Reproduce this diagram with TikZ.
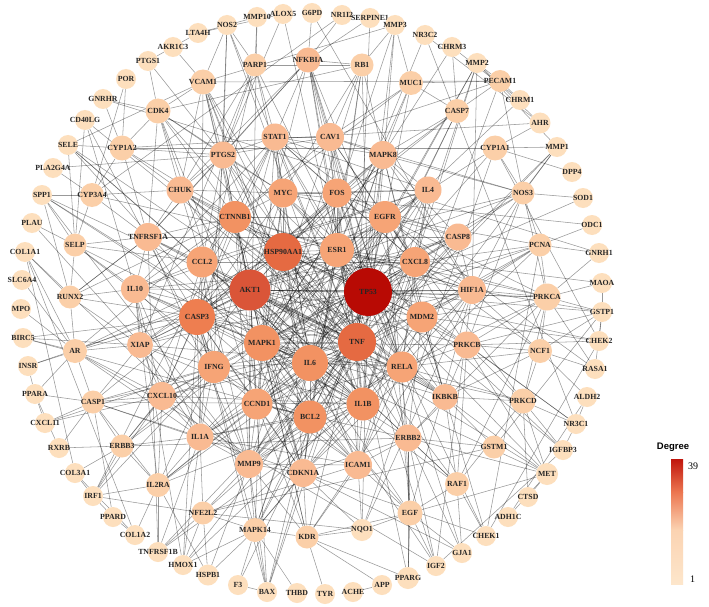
\documentclass[tikz,border=0pt]{standalone}
\usepackage{fontspec}
\setmainfont{Liberation Serif}
\newfontfamily\legfont{Liberation Sans}
\pgfdeclarelayer{bgwhite}
\pgfdeclarelayer{edges}
\pgfsetlayers{bgwhite,edges,main}
\definecolor{c1}{HTML}{FDDFBD}
\definecolor{c2}{HTML}{FBCFA8}
\definecolor{c3}{HTML}{F9BA92}
\definecolor{c4}{HTML}{F6A476}
\definecolor{c5}{HTML}{F29262}
\definecolor{c6}{HTML}{EE7E50}
\definecolor{c7}{HTML}{E56A42}
\definecolor{c8}{HTML}{DA5538}
\definecolor{c9}{HTML}{B80A04}
\definecolor{barA}{HTML}{C0150C}
\definecolor{barB}{HTML}{EC7650}
\definecolor{barC}{HTML}{FBD3B2}
\definecolor{barD}{HTML}{FDE6CB}
\begin{document}
\begin{tikzpicture}[x=1pt,y=-1pt,
  lab/.style={font=\fontsize{7.8}{8.5}\selectfont\bfseries, text=black!85, inner sep=0pt},
  ed/.style={draw=black, opacity=0.4, line width=0.55pt},
  gnode/.style={circle, inner sep=0pt, draw=none}]
\useasboundingbox (0,0) rectangle (709,607);
\begin{pgfonlayer}{bgwhite}
\fill[white] (0,0) rectangle (709,607);
\end{pgfonlayer}
% ---------- nodes: name/x/y/diameter/colour ----------
\foreach \n/\x/\y/\d/\c in {
 MMP10/257/17/20/c1, ALOX5/283/14/20/c1, G6PD/312/13/20/c1, NR1I2/342/15/20/c1,
 SERPINE1/370/18/20/c1, MMP3/395/25/20/c1, NR3C2/425/35/20/c1, CHRM3/452/47/20/c1,
 MMP2/477/63/20/c1, PECAM1/500/81/22/c2, CHRM1/520/100/20/c1, AHR/540/123/21/c1,
 MMP1/557/147/20/c1, DPP4/572/172/20/c1, SOD1/583/198/20/c1, ODC1/592/225/20/c1,
 GNRH1/599/253/20/c1, MAOA/602/283/20/c1, GSTP1/602/312/20/c1, CHEK2/599/341/20/c1,
 RASA1/595/369/20/c1, ALDH2/587/397/20/c1, NR3C1/576/424/20/c1, IGFBP3/563/450/20/c1,
 MET/547/474/22/c1, CTSD/528/497/20/c1, ADH1C/508/517/20/c1, CHEK1/486/536/20/c1,
 GJA1/462/553/20/c1, IGF2/436/566/20/c1, PPARG/408/578/22/c1, APP/382/585/20/c1,
 ACHE/353/592/20/c1, TYR/325/594/20/c1, THBD/297/593/20/c1, BAX/267/592/20/c1,
 F3/238/585/20/c1, HSPB1/208/575/21/c1, HMOX1/183/565/20/c1, TNFRSF1B/158/552/20/c1,
 COL1A2/135/535/20/c1, PPARD/113/517/20/c1, IRF1/93/496/20/c1, COL3A1/75/473/20/c1,
 RXRB/59/448/20/c1, CXCL11/45/423/20/c1, PPARA/35/394/20/c1, INSR/28/366/20/c1,
 BIRC5/23/338/20/c1, MPO/21/309/20/c1, SLC6A4/22/280/20/c1, COL1A1/25/252/20/c1,
 PLAU/32/223/20/c1, SPP1/42/195/20/c1, PLA2G4A/53/168/20/c1, SELE/68/145/20/c1,
 CD40LG/85/120/20/c1, GNRHR/103/99/20/c1, POR/126/79/20/c1, PTGS1/148/61/20/c1,
 AKR1C3/173/47/20/c1, LTA4H/198/33/20/c1, NOS2/227/25/20/c1,
 VCAM1/203/82/25/c2, PARP1/255/65/23/c2, NFKBIA/308/60/25/c3, RB1/362/65/23/c2,
 MUC1/411/83/24/c2, CASP7/457/111/24/c2, CYP1A1/495/148/25/c2, NOS3/523/193/23/c2,
 PCNA/540/245/23/c2, PRKCA/547/297/27/c2, NCF1/540/351/24/c2, PRKCD/523/401/25/c2,
 GSTM1/494/447/23/c2, RAF1/457/484/24/c2, EGF/410/513/25/c2, NQO1/362/530/22/c1,
 KDR/307/537/23/c2, MAPK14/255/530/24/c2, NFE2L2/203/513/23/c2, IL2RA/158/485/24/c2,
 ERBB3/122/446/23/c2, CASP1/93/402/23/c2, AR/75/351/24/c2, RUNX2/70/297/23/c2,
 SELP/75/245/23/c2, CYP3A4/92/195/24/c2, CYP1A2/122/148/25/c2, CDK4/158/111/25/c2,
 PTGS2/223/155/27/c3, STAT1/275/137/27/c3, CAV1/330/137/28/c3, MAPK8/383/155/28/c3,
 IL4/428/190/27/c3, CASP8/458/237/27/c3, HIF1A/472/290/28/c3, PRKCB/467/345/27/c3,
 IKBKB/445/397/26/c3, ERBB2/408/438/27/c3, ICAM1/358/465/28/c3, CDKN1A/303/473/28/c3,
 MMP9/249/464/28/c3, IL1A/200/437/27/c3, CXCL10/162/396/28/c3, XIAP/140/345/26/c3,
 IL10/135/289/28/c3, TNFRSF1A/148/237/28/c3, CHUK/180/190/27/c3,
 MYC/283/193/29/c4, FOS/337/193/29/c4, CTNNB1/235/217/32/c5, EGFR/385/217/32/c4,
 ESR1/337/250/34/c4, MAPK1/262/343/36/c5, IL6/310/363/36/c5, CCL2/202/262/31/c4,
 IFNG/214/367/32/c4, CXCL8/415/262/30/c4, MDM2/422/317/31/c4, RELA/402/367/31/c4,
 IL1B/363/404/33/c5, BCL2/310/417/33/c5, CCND1/257/404/31/c4,
 CASP3/197/317/36/c6, HSP90AA1/283/252/38/c7, TNF/357/342/38/c7,
 AKT1/250/290/41/c8, TP53/368/292/48/c9}
 \node[gnode, fill=\c, minimum size=\d pt, label={[lab]center:\n}] (\n) at (\x,\y) {};
% ---------- edges ----------
\begin{pgfonlayer}{edges}
\foreach \a/\L in {
 TP53/{AKT1,TNF,IL6,MAPK1,HSP90AA1,ESR1,EGFR,MYC,FOS,CTNNB1,CASP3,MDM2,CXCL8,HIF1A,RELA,CCND1,BCL2,CDKN1A,IL1B,CASP8,STAT1,CAV1,MAPK8,PTGS2,CHUK,IKBKB,ERBB2,PCNA,NOS3,CYP1A1,RB1,NFKBIA,PARP1,XIAP,CASP7,IGFBP3,CHEK1,CHEK2,BAX,MET,GSTP1,NQO1,SOD1,PRKCA},
 AKT1/{TNF,IL6,MAPK1,HSP90AA1,ESR1,EGFR,MYC,FOS,CTNNB1,CASP3,MDM2,HIF1A,RELA,CCND1,BCL2,CDKN1A,IL1B,CHUK,IKBKB,ERBB2,ERBB3,NOS3,PRKCA,PRKCB,RAF1,CASP8,XIAP,KDR,IGF2,INSR,MET,BAX,NFKBIA,PTGS2,VCAM1,MMP9,CCL2,IL10},
 TNF/{IL6,IL1B,IL10,IL4,CCL2,CXCL8,IFNG,IL1A,CXCL10,ICAM1,VCAM1,SELE,MMP9,MAPK1,MAPK8,MAPK14,RELA,NFKBIA,CASP3,CASP8,PTGS2,TNFRSF1A,TNFRSF1B,IL2RA,HMOX1,CHUK,IKBKB,STAT1,MMP3,MMP1,NOS2,CASP1,SERPINE1,F3,SPP1,CD40LG},
 IL6/{IL1B,IL10,IL4,CCL2,CXCL8,IFNG,IL1A,STAT1,MAPK1,MAPK8,MAPK14,RELA,ICAM1,VCAM1,MMP9,PTGS2,CXCL10,SPP1,IL2RA,HIF1A,EGF,CASP3,BCL2,MYC,FOS,HSP90AA1,ESR1,EGFR,CCND1,MMP2,SELP},
 MAPK1/{MAPK8,MAPK14,EGFR,ERBB2,RAF1,PRKCA,PRKCB,PRKCD,FOS,MYC,ESR1,CCND1,HSP90AA1,EGF,KDR,MET,PCNA,RELA,CASP3,CTNNB1,ERBB3,CHRM1,CHRM3,IKBKB,HIF1A,CAV1,STAT1,NOS3,BCL2,CDKN1A},
 HSP90AA1/{EGFR,ESR1,ERBB2,IKBKB,CHUK,HIF1A,NOS3,STAT1,CDK4,RAF1,CTNNB1,MYC,FOS,MDM2,CASP3,BCL2,MAPK8,CXCL8,AR,IL1B,TNF,XIAP,PRKCB},
 CASP3/{CASP8,CASP7,CASP1,XIAP,BCL2,BIRC5,PARP1,BAX,IL10,IFNG,CCL2,CXCL10,TNFRSF1A,MMP9,IL1A,IL1B,CCND1,CDKN1A,MAPK8,MAPK14,MYC,FOS,ESR1,CTNNB1,RELA,AR,RUNX2,HMOX1},
 ESR1/{EGFR,ERBB2,MYC,FOS,CCND1,CTNNB1,BCL2,CDKN1A,AR,NR3C1,NR3C2,PPARG,CYP1A1,CYP3A4,IGF2,MUC1,ALOX5,MAOA,CAV1,HIF1A,PRKCA,RB1},
 EGFR/{ERBB2,ERBB3,EGF,MET,CAV1,STAT1,PRKCA,PRKCD,MYC,FOS,CCND1,CTNNB1,IL4,CASP8,KDR,PCNA,MUC1,RASA1,CXCL8,HIF1A,MDM2},
 CTNNB1/{MYC,CCND1,CDK4,AR,PTGS2,CHUK,MMP9,CDKN1A,CAV1,CCL2,TNFRSF1A,IL10,RUNX2,MUC1,VCAM1,CYP1A2,HIF1A,RELA},
 MYC/{FOS,CCND1,CDK4,RB1,PARP1,STAT1,CDKN1A,MDM2,ODC1,PTGS2,CHUK,IL4},
 FOS/{CAV1,MAPK8,STAT1,NFKBIA,IL4,CXCL8,RELA,CASP8,IL1B,ICAM1},
 IL1B/{IL1A,IL10,IL4,CCL2,CXCL8,IFNG,CXCL10,ICAM1,MMP9,MMP3,MMP1,PTGS2,NFKBIA,CASP1,MAPK14,RELA,IL2RA,NOS2,SELE,VCAM1,SPP1,TNFRSF1B,MMP2},
 RELA/{NFKBIA,IKBKB,CHUK,MDM2,HIF1A,CXCL8,ICAM1,PRKCB,PRKCD,NCF1,PRKCA,CCND1,BCL2,XIAP,EGF,IL4,MMP9,STAT1},
 CXCL8/{CCL2,IL4,IL10,IFNG,CXCL10,ICAM1,CASP8,HIF1A,MMP9,MMP2,NCF1,PCNA,PRKCA,IL1A,CAV1,STAT1},
 MDM2/{CDKN1A,RB1,CCND1,HIF1A,PRKCB,IKBKB,CHEK1,CHEK2,PCNA,IGFBP3,ERBB2},
 BCL2/{BAX,XIAP,CASP8,CDKN1A,CCND1,ICAM1,BIRC5,MAPK14,NFE2L2,MMP9,IL1A,CASP7},
 CCND1/{CDK4,CDKN1A,RB1,MMP9,ERBB2,IL1A,IFNG,IL2RA,PCNA,KDR},
 IL10/{IL4,IFNG,CCL2,CXCL10,IL1A,IL2RA,STAT1,CD40LG,SELP,HMOX1,TNFRSF1A,XIAP,RUNX2},
 IFNG/{CXCL10,CXCL11,IL4,STAT1,IRF1,IL2RA,CASP1,IL1A,ICAM1,CCL2,XIAP,NOS2,CD40LG},
 CCL2/{CXCL10,IL4,ICAM1,VCAM1,SELE,SELP,IL1A,PTGS2,CHUK,TNFRSF1A,STAT1,MMP9},
 STAT1/{IRF1,CAV1,NFKBIA,PARP1,CXCL10,PTGS2,IL4,MAPK8},
 CAV1/{NOS3,PECAM1,MAPK8,NFKBIA,RB1,MUC1,GJA1,PTGS2},
 MAPK8/{MAPK14,CASP8,IL4,NOS3,HIF1A,CASP7,MUC1,IKBKB},
 PTGS2/{PTGS1,PLA2G4A,ALOX5,NOS2,VCAM1,CHUK,CDK4,CYP1A2,TNFRSF1A,NFKBIA,PARP1,IL1A},
 HIF1A/{NOS3,PCNA,PRKCA,KDR,EGF,NQO1,HMOX1,MMP2,GSTP1,CASP8,NCF1,G6PD,IGF2},
 ICAM1/{VCAM1,SELE,SELP,PECAM1,IL1A,NFE2L2,MMP9,EGF,KDR,ERBB2,NQO1},
 MMP9/{MMP2,MMP3,MMP1,MMP10,TNFRSF1A,IL1A,CXCL10,CDKN1A,SPP1,COL1A1,PLAU,MAPK14,KDR,NFE2L2,HSPB1,BAX},
 CDKN1A/{CDK4,PCNA,RB1,CHEK1,KDR,MAPK14,NQO1,ERBB2,BAX,GJA1,CASP1},
 IL1A/{CXCL10,IL2RA,CASP1,ERBB3,TNFRSF1B,HMOX1,NFE2L2,XIAP,AR,IL4},
 CXCL10/{CXCL11,CASP1,IL2RA,AR,XIAP,IRF1,ERBB3},
 XIAP/{BIRC5,CASP7,CASP8,AR,RUNX2,CASP1,PARP1},
 TNFRSF1A/{TNFRSF1B,CHUK,IKBKB,CASP8,CYP3A4,SELP,RUNX2,CYP1A2,NFKBIA,CDK4},
 CHUK/{IKBKB,NFKBIA,CDK4,CYP1A2,VCAM1,CYP3A4,PARP1},
 IKBKB/{NFKBIA,PRKCB,PRKCD,NCF1,ERBB2,RAF1,GSTM1,MET},
 ERBB2/{ERBB3,EGF,MET,RAF1,PRKCA,GSTM1,IGF2,PPARG,GJA1},
 PRKCB/{PRKCA,PRKCD,NCF1,RAF1,GSTP1,CHEK2,NOS3,NR3C1},
 PRKCA/{PRKCD,NCF1,RAF1,PCNA,GSTP1,MAOA,NOS3,GNRH1,RASA1},
 NCF1/{PRKCD,GSTP1,RASA1,ALDH2},
 PRKCD/{RAF1,NR3C1,IGFBP3,MET,CTSD},
 EGF/{MET,IGF2,GJA1,RAF1,KDR,PPARG,NQO1},
 KDR/{NQO1,MAPK14,PPARG,TYR,APP},
 MAPK14/{NFE2L2,HSPB1,F3,BAX,THBD,HMOX1},
 NFE2L2/{HMOX1,NQO1,HSPB1,GSTM1,TNFRSF1B,IRF1},
 AR/{RUNX2,CASP1,COL1A1,INSR,BIRC5,PPARA,IGF2,MPO,SLC6A4},
 CASP1/{CXCL11,PPARA,ERBB3,RXRB,IL2RA,PPARD},
 ERBB3/{COL3A1,IRF1,IL2RA,RXRB},
 IL2RA/{TNFRSF1B,COL1A2,IRF1,HSPB1},
 RUNX2/{SELP,COL1A1,SPP1,TNFRSF1A},
 SELP/{SELE,SPP1,CYP3A4,PLAU,CD40LG},
 CYP3A4/{CYP1A2,NR1I2,SPP1,PLA2G4A,POR},
 CYP1A2/{CYP1A1,AHR,POR,GNRHR,SELE},
 CDK4/{RB1,CYP1A2,GNRHR,PTGS1,VCAM1},
 VCAM1/{SELE,PECAM1,MMP3,NOS2,AKR1C3},
 PARP1/{NOS2,MMP10,RB1},
 NFKBIA/{G6PD,SERPINE1,RB1,NR1I2},
 RB1/{MMP3},
 MUC1/{PECAM1,MMP3,CASP7},
 CASP7/{CHRM3,PECAM1},
 CYP1A1/{AHR,NOS3,MMP1,DPP4,CHEK2,NQO1},
 NOS3/{PECAM1,SOD1,MMP1,PCNA},
 PCNA/{ODC1,GNRH1,CHEK1},
 GNRH1/{GNRHR},
 GSTP1/{GSTM1,MAOA,RASA1,CHEK2},
 CHEK2/{CHEK1},
 ALDH2/{ADH1C,NR3C1},
 NR3C1/{NR3C2,IGFBP3},
 IGFBP3/{IGF2},
 MET/{CTSD,ADH1C},
 CHEK1/{RAF1},
 GJA1/{RAF1},
 APP/{ACHE},
 BAX/{F3},
 PPARA/{RXRB,CXCL11},
 COL1A2/{COL3A1,PPARD,COL1A1},
 COL3A1/{IRF1,COL1A1},
 IRF1/{PPARD},
 INSR/{PPARA},
 LTA4H/{ALOX5,MMP10},
 AKR1C3/{LTA4H,PTGS1},
 MMP2/{PECAM1,MMP1,AHR},
 NR3C2/{AHR},
 CHRM1/{CHRM3,PECAM1}}
 {\foreach \b in \L {\draw[ed] (\a) -- (\b);}}
\end{pgfonlayer}
% ---------- legend ----------
\node[font=\legfont\bfseries\fontsize{9.5}{11}\selectfont, inner sep=0pt] (degtitle) at (673,447) {Degree};
\shade[top color=barA, bottom color=barB, draw=none] (671,459) rectangle (683,492);
\shade[top color=barB, bottom color=barC, draw=none] (671,492) rectangle (683,530);
\shade[top color=barC, bottom color=barD, draw=none] (671,530) rectangle (683,584);
\node[font=\fontsize{10}{12}\selectfont, anchor=west, inner sep=0pt] (deg39) at (688,466) {39};
\node[font=\fontsize{10}{12}\selectfont, anchor=west, inner sep=0pt] (deg1) at (690,579) {1};
\end{tikzpicture}
\end{document}
